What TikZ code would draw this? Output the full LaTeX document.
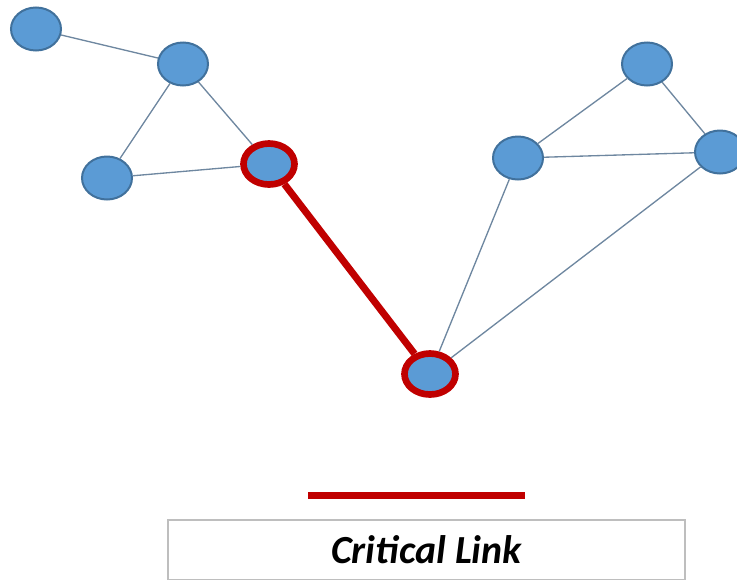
\documentclass[tikz,border=0pt]{standalone}
\usepackage{fontspec}
\setmainfont{Carlito}
\usetikzlibrary{shapes.geometric}
\definecolor{nodefill}{RGB}{91,155,213}
\definecolor{nodeline}{RGB}{65,113,156}
\definecolor{critred}{RGB}{192,0,0}
\definecolor{edgegray}{RGB}{110,135,160}
\definecolor{boxgray}{RGB}{190,190,190}

\begin{document}
\begin{tikzpicture}[
    x=0.03cm, y=-0.03cm,
    peer/.style={ellipse, draw=nodeline, line width=0.06cm, fill=nodefill,
                 minimum width=1.5cm, minimum height=1.29cm, inner sep=0pt},
    critpeer/.style={peer, draw=critred, line width=0.2cm,
                 minimum width=1.53cm, minimum height=1.23cm},
    link/.style={edgegray, line width=0.04cm},
    critlink/.style={critred, line width=0.21cm}
]
\clip (0,0) rectangle (737,579);
% left cluster
\node[peer] (a) at (36,29) {};
\node[peer] (b) at (183,64) {};
\node[peer] (c) at (107,178) {};
\node[critpeer] (d) at (269,164) {};
% right cluster
\node[peer] (f) at (518,158) {};
\node[peer] (g) at (647,64) {};
\node[peer] (h) at (720,152) {};
\node[critpeer] (e) at (430,374) {};
\draw[link] (a)--(b)--(c)--(d)--(b);
\draw[link] (e)--(f)--(g)--(h)--(f);
\draw[link] (h)--(e);
\draw[critlink] (d)--(e);
% legend
\coordinate (l1) at (308,495);
\coordinate (l2) at (525,495);
\draw[critlink] (l1)--(l2);
\node[draw=boxgray, line width=0.06cm, minimum width=15.5cm, minimum height=1.8cm,
      font=\fontsize{34}{40}\selectfont\bfseries\itshape] (legend) at (426.5,549.5) {Critical Link};
\end{tikzpicture}
\end{document}
